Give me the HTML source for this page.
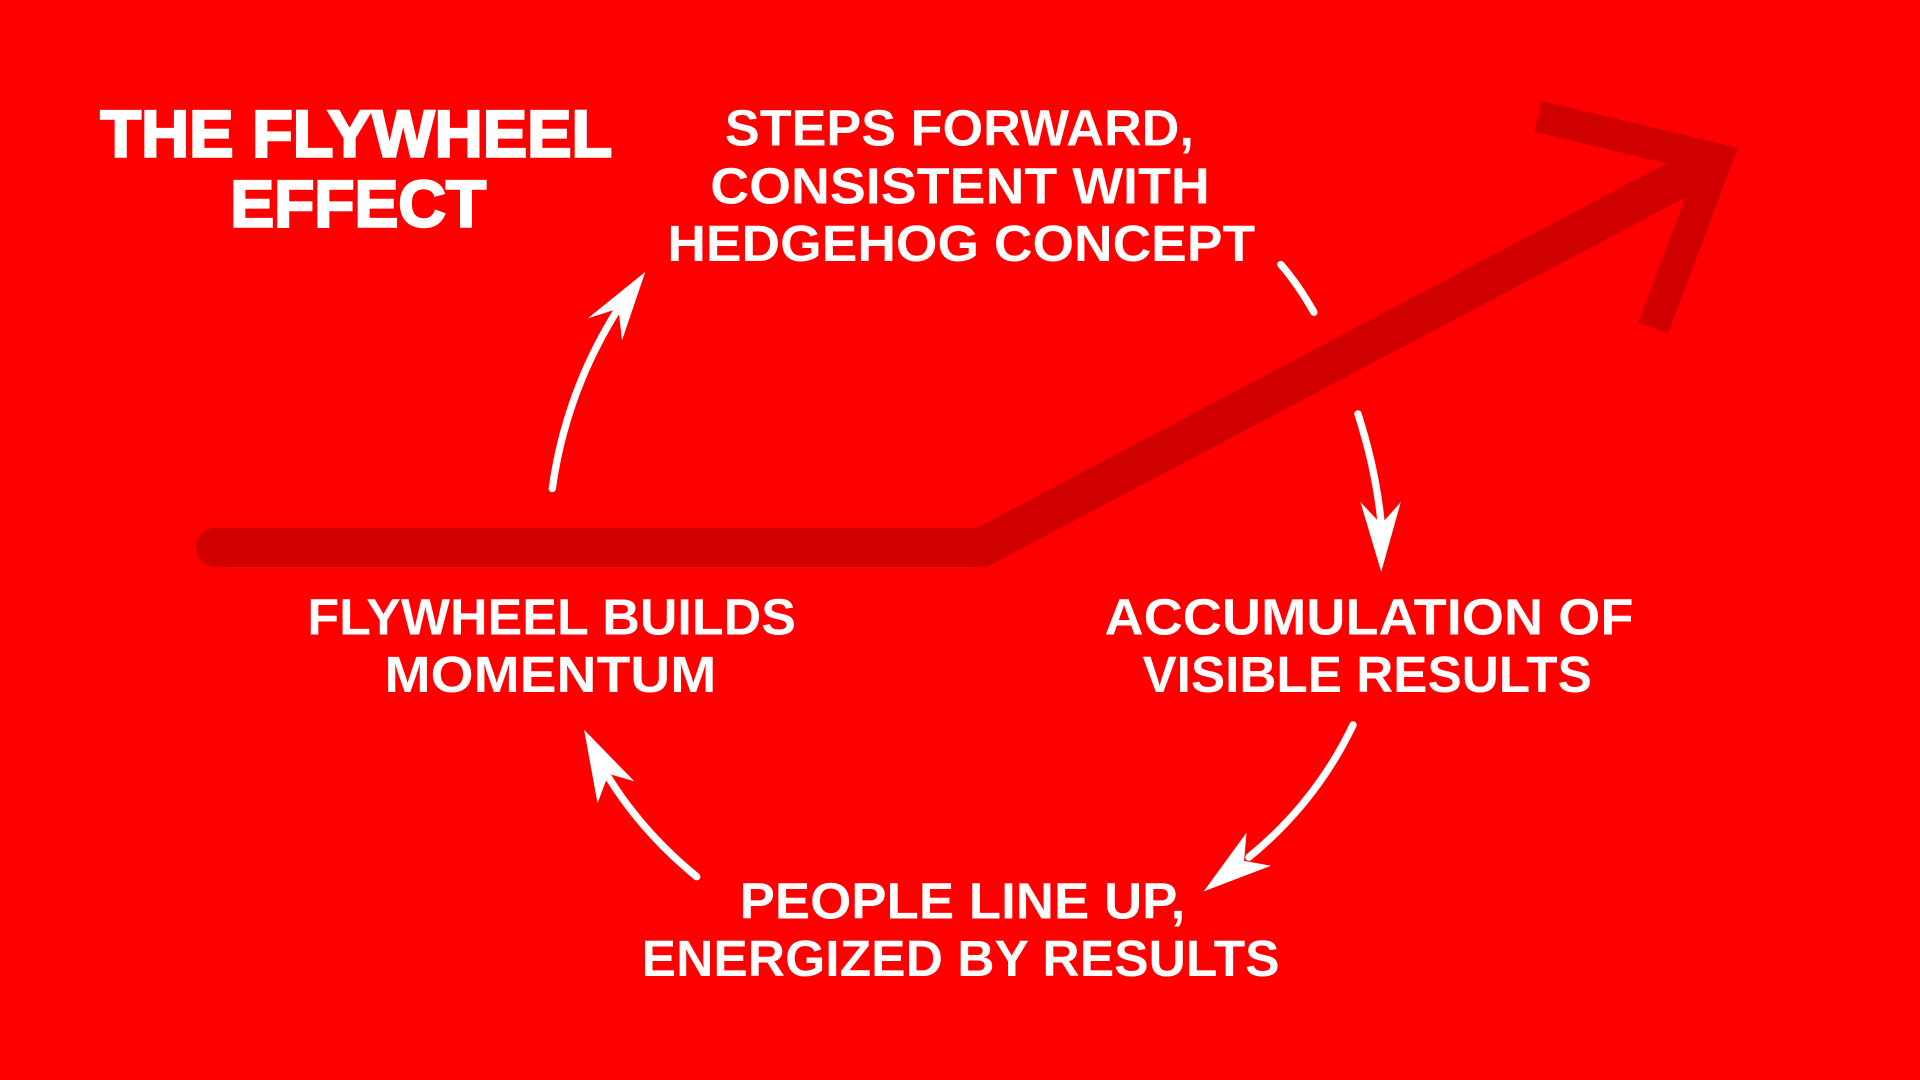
<!DOCTYPE html>
<html><head><meta charset="utf-8"><style>
html,body{margin:0;padding:0;background:#ff0000;}
svg{display:block;}
text{font-family:"Liberation Sans",sans-serif;font-weight:bold;fill:#fff;}
</style></head><body>
<svg width="1920" height="1080" viewBox="0 0 1568 882" xmlns="http://www.w3.org/2000/svg">
<rect width="1568" height="882" fill="#ff0000"/>
<g stroke="#d00000" fill="none">
<path d="M176 447 L802 447 L1392 135" stroke-width="32" stroke-linecap="round" stroke-linejoin="miter"/>
<polyline points="1256,95 1402,130 1350,268" stroke-width="26" stroke-linejoin="miter" stroke-miterlimit="10"/>
</g>
<g font-size="54" style="font-weight:900">
<text x="82" y="128" textLength="418" lengthAdjust="spacingAndGlyphs" stroke="#fff" stroke-width="2">THE FLYWHEEL</text>
<text x="188" y="185" textLength="209" lengthAdjust="spacingAndGlyphs" stroke="#fff" stroke-width="2">EFFECT</text>
</g>
<g font-size="42">
<text x="592" y="119" textLength="383" lengthAdjust="spacingAndGlyphs">STEPS FORWARD,</text>
<text x="580" y="166" textLength="408" lengthAdjust="spacingAndGlyphs">CONSISTENT WITH</text>
<text x="545" y="213" textLength="480" lengthAdjust="spacingAndGlyphs">HEDGEHOG CONCEPT</text>
<text x="251" y="518" textLength="399" lengthAdjust="spacingAndGlyphs">FLYWHEEL BUILDS</text>
<text x="314" y="565" textLength="271" lengthAdjust="spacingAndGlyphs">MOMENTUM</text>
<text x="902" y="518" textLength="432" lengthAdjust="spacingAndGlyphs">ACCUMULATION OF</text>
<text x="933" y="565" textLength="367" lengthAdjust="spacingAndGlyphs">VISIBLE RESULTS</text>
<text x="604" y="750" textLength="364" lengthAdjust="spacingAndGlyphs">PEOPLE LINE UP,</text>
<text x="524" y="797" textLength="521" lengthAdjust="spacingAndGlyphs">ENERGIZED BY RESULTS</text>
</g>
<g stroke="#fff" stroke-width="6" fill="none" stroke-linecap="round">
<path d="M451 399 Q462 320 505 252"/>
<path d="M1046 216 Q1060 232 1073 255"/>
<path d="M1109 338 Q1124 385 1128 428"/>
<path d="M1105 592 Q1075 655 1020 700"/>
<path d="M569 716 Q525 680 497 635"/>
</g>
<g fill="#fff">
<polygon points="527,222 508,278 505,252 480,260"/>
<polygon points="1128,467 1111,410 1128,428 1144,410"/>
<polygon points="983,728 1018,680 1016,703 1038,707"/>
<polygon points="477,596 518,638 497,632 488,656"/>
</g>
</svg>
</body></html>
